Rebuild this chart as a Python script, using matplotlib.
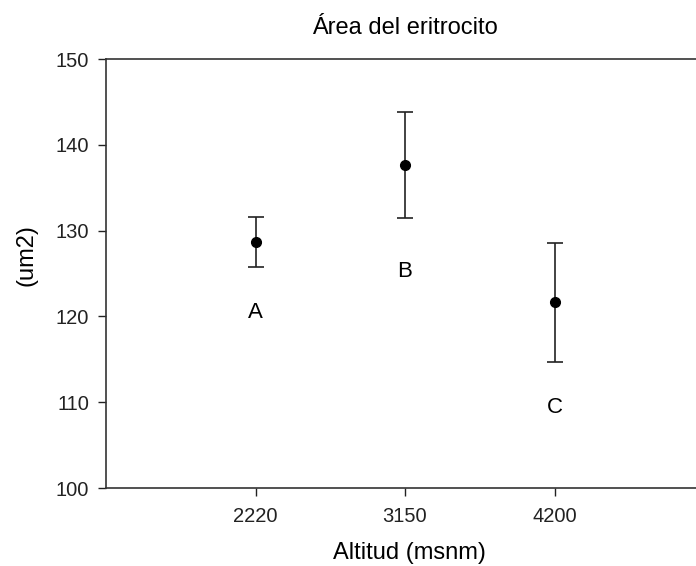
import matplotlib.pyplot as plt

plt.rcParams["font.family"] = ["Liberation Sans", "DejaVu Sans"]

altitudes = ["2220", "3150", "4200"]
area_mean = [128.7, 137.7, 121.7]
area_low = [125.7, 131.5, 114.7]
area_high = [131.55, 143.8, 128.5]
groups = ["A", "B", "C"]
group_label_y = [120.5, 125.2, 109.4]

positions = [1, 2, 3]
yerr = [
    [m - lo for m, lo in zip(area_mean, area_low)],
    [hi - m for m, hi in zip(area_mean, area_high)],
]

fig = plt.figure(figsize=(6.96, 5.66), dpi=100)
# axes run past the right edge of the figure, like the original export
ax = fig.add_axes([106 / 696, 78 / 566, 598 / 696, 429 / 566])

ax.errorbar(positions, area_mean, yerr=yerr, fmt="o", color="black",
            ecolor="#222222", elinewidth=1.2, capsize=6, capthick=1.2,
            markersize=7)

for x, y, g in zip(positions, group_label_y, groups):
    ax.text(x, y, g, ha="center", va="center", fontsize=16)

ax.set_xlim(0, 4)
ax.set_ylim(100, 150)
ax.set_xticks(positions)
ax.set_xticklabels(altitudes)
ax.set_yticks([100, 110, 120, 130, 140, 150])
ax.tick_params(axis="both", direction="out", length=6, width=1, labelsize=14.5, colors="#222222")
ax.tick_params(axis="x", pad=8)
ax.tick_params(axis="y", pad=6)

for side in ["left", "bottom", "top", "right"]:
    ax.spines[side].set_color("#333333")
    ax.spines[side].set_linewidth(1.2)

ax.set_title("Área del eritrocito", fontsize=17, pad=18)
ax.set_xlabel("Altitud (msnm)", fontsize=17, labelpad=10)
ax.xaxis.set_label_coords(0.508, -0.125)
ax.set_ylabel("(um2)", fontsize=17)
ax.yaxis.set_label_coords(-0.115, 0.543)

fig.savefig("out.png", dpi=100)
